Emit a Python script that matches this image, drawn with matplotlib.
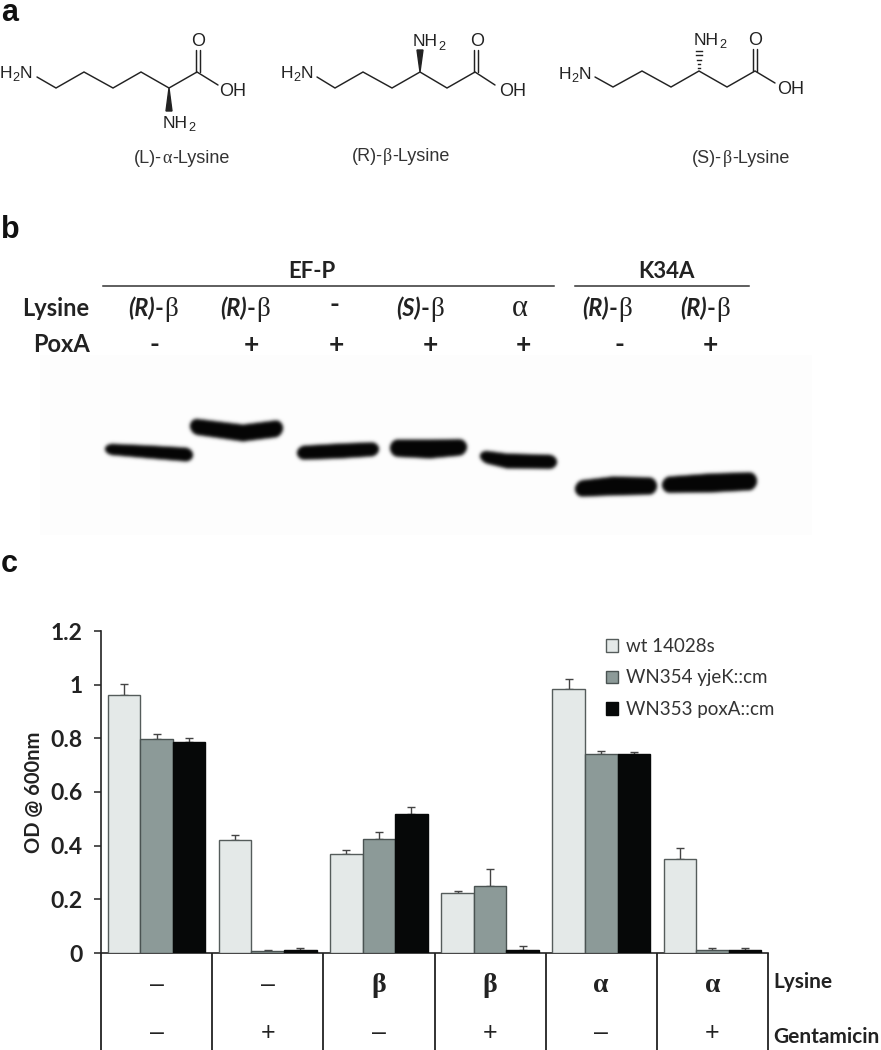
import numpy as np
import matplotlib
matplotlib.use("Agg")
import matplotlib.pyplot as plt
from matplotlib.patches import Polygon

W, H = 881, 1050

# ---- panel c data ----
lysine_row = ["–", "–", "β", "β", "α", "α"]
gentamicin_row = ["–", "+", "–", "+", "–", "+"]
strain_names = ["wt 14028s", "WN354 yjeK::cm", "WN353 poxA::cm"]
wt_values = [0.96, 0.42, 0.37, 0.225, 0.982, 0.35]
yjek_values = [0.797, 0.008, 0.425, 0.25, 0.742, 0.013]
poxa_values = [0.787, 0.01, 0.517, 0.012, 0.742, 0.012]
wt_err = [0.043, 0.02, 0.012, 0.007, 0.04, 0.04]
yjek_err = [0.018, 0.002, 0.025, 0.062, 0.01, 0.004]
poxa_err = [0.016, 0.008, 0.026, 0.013, 0.006, 0.008]
y_ticks = [0, 0.2, 0.4, 0.6, 0.8, 1, 1.2]
y_tick_labels = ["0", "0.2", "0.4", "0.6", "0.8", "1", "1.2"]

# ---- panel b data: band traces (x, y, half thickness) in gel pixels ----
lane_lysine = ["(R)", "(R)", "-", "(S)", "α", "(R)", "(R)"]
lane_lysine_x = [153, 245, 334, 420, 520, 607, 705]
lane_poxa = ["-", "+", "+", "+", "+", "-", "+"]
lane_poxa_x = [154, 251, 336, 430, 523, 619, 710]
band_1 = [(105, 449, 5.5), (150, 452, 6.5), (193, 455, 7)]
band_2 = [(190, 426, 8), (243, 433, 8.5), (283, 428, 8.5)]
band_3 = [(297, 453, 7), (340, 451, 7.5), (379, 449, 7)]
band_4 = [(390, 448, 8.5), (430, 449, 9.5), (467, 447, 8)]
band_5 = [(480, 456, 6), (507, 461, 7.5), (557, 462, 7)]
band_6 = [(575, 489, 8), (613, 486, 9.5), (657, 486, 8.5)]
band_7 = [(662, 485, 8), (710, 483, 9.5), (757, 481, 9)]
bands = [band_1, band_2, band_3, band_4, band_5, band_6, band_7]

SANS = "Liberation Sans"
SERIF = "Liberation Serif"
CAL = "Lato"
INK = "#222222"

fig = plt.figure(figsize=(W / 100, H / 100), dpi=100, facecolor="white")
ov = fig.add_axes([0, 0, 1, 1], zorder=0)
ov.set_axis_off()
renderer = fig.canvas.get_renderer()


def mixed(x, y, pieces, size, color=INK, center=False):
    """pieces: (text, family, weight, style, scale, dy_px, gap_px)"""
    made = []
    cx = x
    for txt, fam, wt, st, scale, dy, gap in pieces:
        t = ov.text(cx, y + dy, txt, family=fam, weight=wt, style=st, fontsize=size * scale,
                    color=color, ha="left", va="baseline")
        w = t.get_window_extent(renderer).width
        made.append(t)
        cx += w + gap
    if center:
        shift = (cx - x) / 2
        for t in made:
            tx, ty = t.get_position()
            t.set_position((tx - shift, ty))


def sub2(x, y, label):
    """H2N or NH2 with subscript"""
    s = 12.6
    p = lambda t, sc=1.0, dy=0: (t, SANS, "normal", "normal", sc, dy, 0.2)
    if label == "H2N":
        mixed(x, y, [p("H"), p("2", .72, 3), p("N")], s)
    else:
        mixed(x, y, [p("NH"), p("2", .72, 3)], s)


def chain(xs, ys):
    ov.plot(xs, ys, color=INK, lw=1.05, solid_capstyle="round", solid_joinstyle="miter")


def double_up(x, y0, y1):
    chain([x - 2.2, x - 2.2], [y0, y1])
    chain([x + 2.2, x + 2.2], [y0, y1])


# ---- panel a ----
ov.text(1, 21, "a", family=SANS, weight="bold", fontsize=22, color="#111111")
# L-alpha
chain([37, 56, 84, 113, 141, 169, 197, 218], [77, 88, 72, 88, 72, 88, 72, 85])
double_up(198, 72, 50)
ov.add_patch(Polygon([(169, 88), (166, 111), (172, 111)], color=INK))
sub2(0, 78, "H2N")
ov.text(198, 46, "O", family=SANS, fontsize=13, color=INK, ha="center")
ov.text(219, 96, "OH", family=SANS, fontsize=13, color=INK)
sub2(163, 128, "NH2")
# R-beta
chain([317, 335, 363, 392, 420, 447, 475, 495], [77, 88, 72, 88, 72, 88, 72, 85])
double_up(476, 72, 50)
ov.add_patch(Polygon([(420, 72), (417, 50), (423, 50)], color=INK))
sub2(281, 78, "H2N")
ov.text(477, 46, "O", family=SANS, fontsize=13, color=INK, ha="center")
ov.text(499, 96, "OH", family=SANS, fontsize=13, color=INK)
sub2(413, 46.5, "NH2")
# S-beta
chain([595, 613, 642, 671, 699, 727, 755, 775], [77, 87, 71, 87, 71, 87, 71, 83])
double_up(755, 71, 49)
for frac, hw in zip([0.92, 0.72, 0.52, 0.32, 0.14], [3.4, 2.7, 2.0, 1.3, 0.7]):
    yy = 71 - 22 * frac
    ov.plot([699 - hw, 699 + hw], [yy, yy], color=INK, lw=1.0)
sub2(694, 45, "NH2")
sub2(559, 79, "H2N")
ov.text(755, 45, "O", family=SANS, fontsize=13, color=INK, ha="center")
ov.text(777, 94, "OH", family=SANS, fontsize=13, color=INK)

cap = lambda t, f=SANS: (t, f, "normal", "normal", 1.0, 0, 0.4)
mixed(182, 163, [cap("(L)-"), cap("α", SERIF), cap("-Lysine")], 13, "#333333", center=True)
mixed(401, 161, [cap("(R)-"), cap("β", SERIF), cap("-Lysine")], 13, "#333333", center=True)
mixed(741, 163, [cap("(S)-"), cap("β", SERIF), cap("-Lysine")], 13, "#333333", center=True)

# ---- panel b ----
ov.text(1, 238, "b", family=SANS, weight="bold", fontsize=22, color="#111111")
gx0, gx1, gy0, gy1 = 40, 812, 355, 535
gx = np.arange(gx0, gx1) + 0.5
gy = np.arange(gy0, gy1) + 0.5
YY, XX = np.meshgrid(gy, gx, indexing="ij")
dark = np.zeros_like(XX)
for band in bands:
    bx, by, bh = zip(*band)
    c = np.interp(gx, bx, by)
    h = np.interp(gx, bx, bh)
    taper = np.sqrt(np.clip(1 - (np.clip(np.maximum(bx[0] + 8 - gx, gx - bx[-1] + 8), 0, None) / 8.0) ** 2, 0, 1))
    h = h * taper * ((gx > bx[0]) & (gx < bx[-1]))
    d = np.clip((h[None, :] - np.abs(YY - c[None, :])) / 1.5 + 0.5, 0, 1)
    d[:, h <= 0] = 0
    dark = np.maximum(dark, d)
kern = np.exp(-0.5 * (np.arange(-5, 6) / 1.7) ** 2)
kern /= kern.sum()
pad = np.pad(dark, 5, mode="edge")
pad = np.apply_along_axis(lambda v: np.convolve(v, kern, mode="same"), 0, pad)
pad = np.apply_along_axis(lambda v: np.convolve(v, kern, mode="same"), 1, pad)
dark = pad[5:-5, 5:-5]
gel = 0.99 * (1 - dark) + 0.02 * dark
ov.imshow(gel, extent=(gx0, gx1, gy1, gy0), cmap="gray", vmin=0, vmax=1, aspect="auto",
          interpolation="bilinear", zorder=0)
ov.set_xlim(0, W)
ov.set_ylim(H, 0)

ov.plot([103, 554], [286, 286], color="#333333", lw=1.1)
ov.plot([575, 749], [286, 286], color="#333333", lw=1.1)
LB = dict(family=CAL, color=INK, va="center")
ov.text(312, 272, "EF-P", fontsize=16, weight="bold", ha="center", **LB)
ov.text(666, 272, "K34A", fontsize=16, weight="bold", ha="center", **LB)
ov.text(89, 309, "Lysine", fontsize=17, weight="bold", ha="right", **LB)
ov.text(90, 345, "PoxA", fontsize=17, weight="bold", ha="right", **LB)
for xp, name in zip(lane_lysine_x, lane_lysine):
    if name.startswith("("):
        mixed(xp, 316, [(name, CAL, "bold", "italic", 1.0, 0, 0.5),
                        ("-", CAL, "bold", "normal", 1.0, 0, 0.5),
                        ("β", SERIF, "normal", "normal", 1.15, 0, 0)], 17, center=True)
    elif name == "α":
        ov.text(xp, 309, name, family=SERIF, fontsize=22, color=INK, ha="center", va="center")
    else:
        ov.text(xp, 305, name, fontsize=19, weight="bold", ha="center", **LB)
for xp, name in zip(lane_poxa_x, lane_poxa):
    ov.text(xp, 345, name, fontsize=19, weight="bold", ha="center", **LB)

# ---- panel c ----
ov.text(1, 572, "c", family=SANS, weight="bold", fontsize=22, color="#111111")
ax = fig.add_axes([101 / W, (H - 953) / H, 667 / W, 322 / H], zorder=1)
ax.patch.set_alpha(0)
pos = np.arange(6) + 0.5
bw = 0.293
series = [(wt_values, wt_err, "#e4e9e8", "#555c5b"),
          (yjek_values, yjek_err, "#8c9a98", "#4a5352"),
          (poxa_values, poxa_err, "#060808", "#060808")]
for j, (vals, errs, col, edge) in enumerate(series):
    xs = pos + (j - 1) * bw
    ax.errorbar(xs, vals, yerr=[np.zeros(6), errs], fmt="none", ecolor="#444444", elinewidth=1,
                capsize=3.2, capthick=1, zorder=2)
    ax.bar(xs, vals, bw, color=col, edgecolor=edge, linewidth=1, label=strain_names[j], zorder=3)
ax.set_xlim(0, 6)
ax.set_ylim(0, 1.2)
ax.set_yticks(y_ticks, y_tick_labels, family=CAL, weight="bold", fontsize=16.5, color=INK)
ax.set_xticks(np.arange(7), [""] * 7)
ax.tick_params(axis="y", direction="out", length=5.2, width=1.1, color=INK, pad=8)
ax.tick_params(axis="x", direction="out", length=70, width=1.3, color=INK)
for s in ("top", "right"):
    ax.spines[s].set_visible(False)
for s in ("left", "bottom"):
    ax.spines[s].set_linewidth(1.2)
    ax.spines[s].set_color(INK)
ax.set_ylabel("OD @ 600nm", family=CAL, weight="bold", fontsize=14.5, color=INK, labelpad=4.5)
for xp, a, b in zip(pos, lysine_row, gentamicin_row):
    for txt, off in ((a, 32), (b, 80)):
        greek = txt in "αβ"
        ax.annotate(txt, (xp, 0), xytext=(0, -off * 0.72), textcoords="offset points",
                    ha="center", va="center", annotation_clip=False, color=INK,
                    family=SERIF if greek else SANS, weight="bold" if greek else "normal",
                    fontsize=20 if greek else 18)
ov.text(773, 982, "Lysine", fontsize=15, weight="bold", ha="left", **LB)
ov.text(773, 1037, "Gentamicin", fontsize=15, weight="bold", ha="left", **LB)
leg = ax.legend(loc="upper left", bbox_to_anchor=(606 / W, 1 - 638 / H), bbox_transform=fig.transFigure,
                frameon=False, prop={"family": CAL, "size": 13.5}, handlelength=0.65, handleheight=0.65,
                labelspacing=0.77, handletextpad=0.42, borderpad=0, borderaxespad=0, labelcolor="#333333")

fig.savefig("out.png", dpi=100)
